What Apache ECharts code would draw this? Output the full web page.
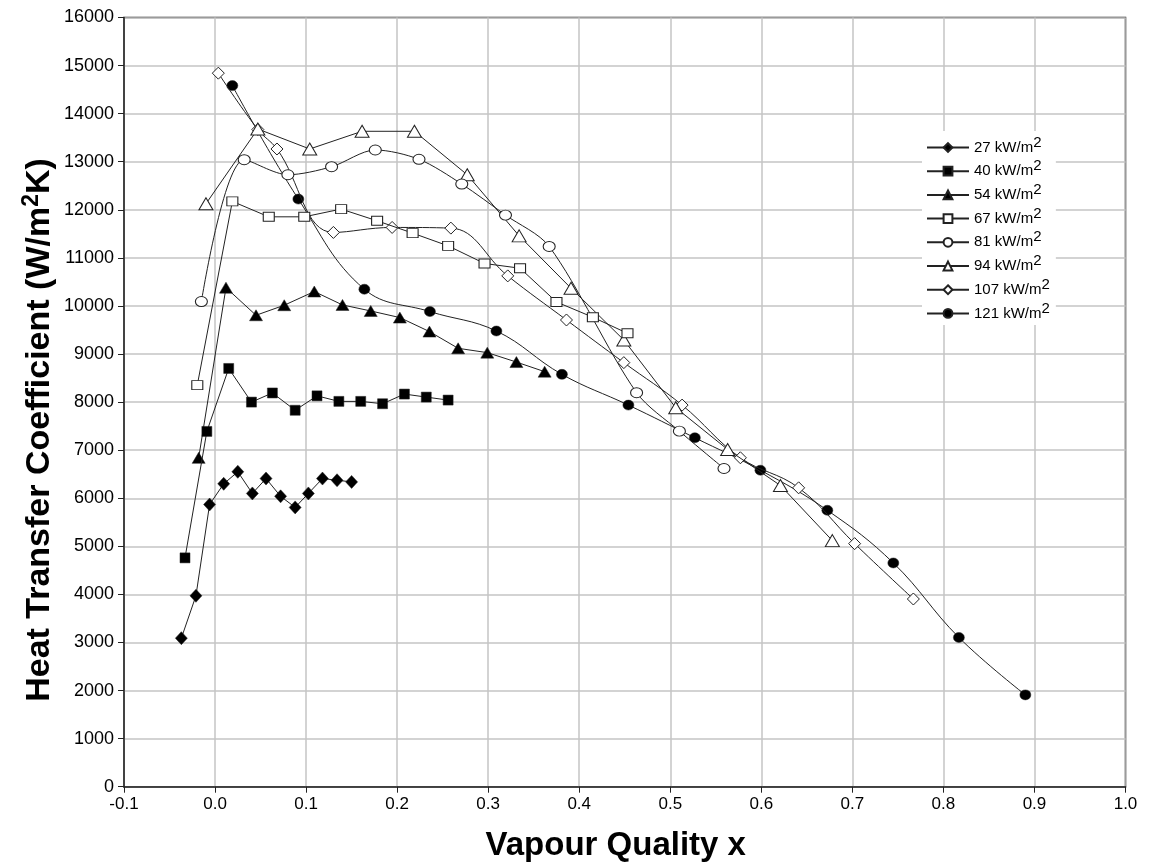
<!DOCTYPE html>
<html>
<head>
<meta charset="utf-8">
<script src="https://cdn.jsdelivr.net/npm/echarts@6/dist/echarts.min.js"></script>
<style>html,body{margin:0;padding:0;background:#fff;}#chart{width:1151px;height:867px;}</style>
</head>
<body>
<div id="chart"></div>
<script>
const seriesNames = ['27 kW/m2','40 kW/m2','54 kW/m2','67 kW/m2','81 kW/m2','94 kW/m2','107 kW/m2','121 kW/m2'];
const xTicks = [-0.1,0.0,0.1,0.2,0.3,0.4,0.5,0.6,0.7,0.8,0.9,1.0];
const yTicks = [0,1000,2000,3000,4000,5000,6000,7000,8000,9000,10000,11000,12000,13000,14000,15000,16000];

const q27 = [[-0.037,3090],[-0.021,3970],[-0.006,5870],[0.0095,6300],[0.025,6550],[0.041,6100],[0.056,6410],[0.072,6040],[0.088,5810],[0.1025,6100],[0.118,6410],[0.134,6375],[0.150,6340]];
const q40 = [[-0.033,4760],[-0.009,7390],[0.015,8700],[0.040,8000],[0.063,8190],[0.088,7830],[0.112,8130],[0.136,8015],[0.160,8015],[0.184,7966],[0.208,8167],[0.232,8104],[0.256,8042]];
const q54 = [[-0.018,6840],[0.012,10380],[0.045,9806],[0.076,10015],[0.109,10300],[0.140,10021],[0.171,9896],[0.203,9758],[0.2355,9467],[0.267,9119],[0.299,9029],[0.331,8833],[0.362,8633]];
const q67 = [[-0.0195,8354],[0.019,12175],[0.059,11854],[0.098,11854],[0.1385,12015],[0.178,11771],[0.217,11515],[0.256,11250],[0.296,10883],[0.335,10785],[0.375,10083],[0.415,9765],[0.453,9431]];
const q81 = [[-0.015,10092],[0.032,13042],[0.080,12729],[0.128,12896],[0.176,13244],[0.224,13050],[0.271,12535],[0.319,11890],[0.367,11237],[0.463,8196],[0.510,7396],[0.559,6619]];
const q94 = [[-0.010,12125],[0.047,13681],[0.104,13265],[0.1615,13633],[0.219,13633],[0.277,12729],[0.334,11458],[0.391,10369],[0.449,9292],[0.506,7883],[0.563,7015],[0.621,6265],[0.678,5119]];
const q107 = [[0.0036,14842],[0.047,13670],[0.068,13265],[0.130,11529],[0.1945,11633],[0.259,11619],[0.3215,10625],[0.386,9708],[0.449,8821],[0.513,7938],[0.577,6842],[0.641,6217],[0.7025,5056],[0.767,3904]];
const q121 = [[0.019,14583],[0.0915,12223],[0.164,10348],[0.236,9883],[0.309,9479],[0.381,8577],[0.454,7938],[0.527,7258],[0.599,6583],[0.6725,5750],[0.745,4654],[0.817,3104],[0.890,1910]];

const dataSets = [q27,q40,q54,q67,q81,q94,q107,q121];
const styles = [
  {symbol:'diamond', size:[12,13], fill:'#000', smooth:false},
  {symbol:'rect', size:[10,10], fill:'#000', smooth:false},
  {symbol:'triangle', size:[13,11], fill:'#000', smooth:false},
  {symbol:'rect', size:[11,9], fill:'#fff', smooth:false},
  {symbol:'circle', size:[12,10], fill:'#fff', smooth:0.3},
  {symbol:'triangle', size:[14,12], fill:'#fff', smooth:false},
  {symbol:'diamond', size:[12,12], fill:'#fff', smooth:0.4},
  {symbol:'circle', size:[11,10], fill:'#000', smooth:0.4}
];

const AR = 'Liberation Sans, Arial, sans-serif';
const chart = echarts.init(document.getElementById('chart'), null, {renderer:'canvas'});
const series = dataSets.map((d,i)=>({
  name: seriesNames[i],
  type:'line',
  data:d,
  symbol: styles[i].symbol,
  symbolSize: styles[i].size,
  smooth: styles[i].smooth,
  lineStyle:{color:'#222', width:1},
  itemStyle:{color: styles[i].fill, borderColor:'#222', borderWidth: styles[i].fill==='#fff'?1:0.5},
  z: 10 - i
}));

chart.setOption({
  animation:false,
  backgroundColor:'#fff',
  grid:{left:124, right:25.5, top:17.5, bottom:80.3, show:true, borderColor:'#222', borderWidth:1.5, containLabel:false, outerBoundsMode:'none'},
  legend:{
    orient:'vertical', left:922, top:131, itemWidth:42, itemHeight:11, itemGap:3.7,
    backgroundColor:'#fff', padding:[4,6,4,4],
    data: seriesNames,
    formatter: function(n){ return n.replace(/2$/, '{sup|2}'); },
    textStyle:{fontFamily:AR, fontSize:15, color:'#000',
      rich:{sup:{fontSize:15, verticalAlign:'bottom', padding:[0,0,10,0], fontFamily:AR, color:'#000'}}}
  },
  graphic:[{
    type:'text', x:40, y:430, rotation:Math.PI/2,
    style:{text:'Heat Transfer Coefficient (W/m{sup|2}K)', font:'bold 34px ' + AR, fill:'#000',
      align:'center', verticalAlign:'middle',
      rich:{sup:{fontSize:23, fontWeight:'bold', fontFamily:AR, fill:'#000', verticalAlign:'bottom', padding:[0,0,17,0]}}}
  }],
  xAxis:{
    type:'value', min:-0.1, max:1.0, interval:0.1,
    axisLine:{show:true, onZero:false, lineStyle:{color:'#222', width:1.5}},
    axisTick:{show:true, length:6, inside:false, lineStyle:{color:'#222'}},
    splitLine:{show:true, lineStyle:{color:'#c4c4c4', width:1.5}},
    axisLabel:{formatter:v=>v.toFixed(1), fontFamily:AR, fontSize:17, color:'#000', margin:9},
    name:'Vapour Quality x', nameLocation:'middle', nameGap:43,
    nameTextStyle:{fontFamily:AR, fontSize:33, fontWeight:'bold', color:'#000', padding:[0,18,0,0]}
  },
  yAxis:{
    type:'value', min:0, max:16000, interval:1000,
    axisLine:{show:true, onZero:false, lineStyle:{color:'#222', width:1.5}},
    axisTick:{show:true, length:6, inside:false, lineStyle:{color:'#222'}},
    splitLine:{show:true, lineStyle:{color:'#c4c4c4', width:1.5}},
    axisLabel:{formatter:v=>String(v), fontFamily:AR, fontSize:18, color:'#000', margin:10}
  },
  series: series
});
</script>
</body>
</html>
